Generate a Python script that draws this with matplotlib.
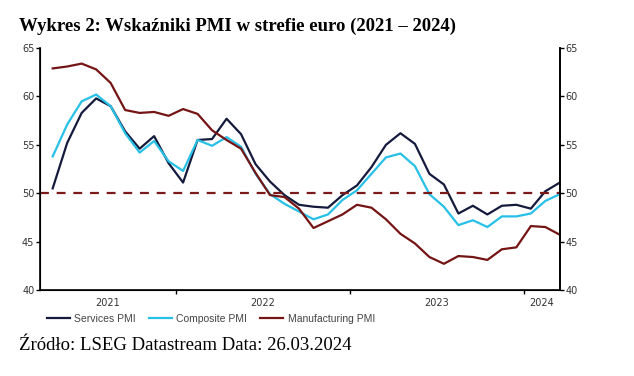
import matplotlib
matplotlib.use("Agg")
import matplotlib.pyplot as plt

# monthly data, Apr 2021 - Mar 2024
months = ["2021-04", "2021-05", "2021-06", "2021-07", "2021-08", "2021-09", "2021-10", "2021-11", "2021-12",
          "2022-01", "2022-02", "2022-03", "2022-04", "2022-05", "2022-06", "2022-07", "2022-08", "2022-09",
          "2022-10", "2022-11", "2022-12",
          "2023-01", "2023-02", "2023-03", "2023-04", "2023-05", "2023-06", "2023-07", "2023-08", "2023-09",
          "2023-10", "2023-11", "2023-12",
          "2024-01", "2024-02", "2024-03"]
services = [50.5, 55.2, 58.3, 59.8, 59.0, 56.4, 54.6, 55.9, 53.1,
            51.1, 55.5, 55.6, 57.7, 56.1, 53.0, 51.2, 49.8, 48.8, 48.6, 48.5, 49.8,
            50.8, 52.7, 55.0, 56.2, 55.1, 52.0, 50.9, 47.9, 48.7, 47.8, 48.7, 48.8,
            48.4, 50.2, 51.1]
composite = [53.8, 57.1, 59.5, 60.2, 59.0, 56.2, 54.2, 55.4, 53.3,
             52.3, 55.5, 54.9, 55.8, 54.8, 52.0, 49.9, 48.9, 48.1, 47.3, 47.8, 49.3,
             50.3, 52.0, 53.7, 54.1, 52.8, 49.9, 48.6, 46.7, 47.2, 46.5, 47.6, 47.6,
             47.9, 49.2, 49.9]
manufacturing = [62.9, 63.1, 63.4, 62.8, 61.4, 58.6, 58.3, 58.4, 58.0,
                 58.7, 58.2, 56.5, 55.5, 54.6, 52.1, 49.8, 49.6, 48.4, 46.4, 47.1, 47.8,
                 48.8, 48.5, 47.3, 45.8, 44.8, 43.4, 42.7, 43.5, 43.4, 43.1, 44.2, 44.4,
                 46.6, 46.5, 45.7]
years = ["2021", "2022", "2023", "2024"]
yticks = [40, 45, 50, 55, 60, 65]

# month position: months since Jan 2021, placed mid-month
x = [(int(m[:4]) - 2021) * 12 + int(m[5:]) - 1 + 0.5 for m in months]

plt.rcParams["font.family"] = "DejaVu Sans"
fig = plt.figure(figsize=(6.34, 3.76), dpi=100)
ax = fig.add_axes([0.063, 0.229, 0.82, 0.643])

ax.plot(x, services, color="#141a3c", lw=1.6, label="Services PMI")
ax.plot(x, composite, color="#27c0e6", lw=1.6, label="Composite PMI")
ax.plot(x, manufacturing, color="#741414", lw=1.6, label="Manufacturing PMI")
ax.axhline(50, color="#7a1a1a", lw=1.6, ls=(0, (4, 3.5)))

ax.set_xlim(2.62, 38.5)
ax.set_ylim(40, 65)
ax.set_yticks(yticks)
ax.set_xticks([12, 24, 36])
ax.set_xticklabels([])
# year labels centered in visible part of each year
xl, xr = ax.get_xlim()
for i, yr in enumerate(years):
    a = max(i * 12, xl)
    b = min((i + 1) * 12, xr)
    ax.text((a + b) / 2, -0.035, yr, transform=ax.get_xaxis_transform(),
            ha="center", va="top", fontsize=7, color="#333333")

ax.tick_params(axis="both", direction="out", length=3, width=1, labelsize=7, colors="#333333")
ax.tick_params(axis="x", color="black")
ax.tick_params(axis="y", color="black", pad=1)
ax.spines["top"].set_visible(False)
for s in ["left", "bottom", "right"]:
    ax.spines[s].set_linewidth(1.2)

ax2 = ax.twinx()
ax2.set_ylim(40, 65)
ax2.set_yticks(yticks)
ax2.tick_params(axis="y", direction="out", length=3, width=1, labelsize=7, labelcolor="#333333", pad=1)
ax2.spines["top"].set_visible(False)
ax2.spines["right"].set_linewidth(1.2)

leg = ax.legend(loc="upper left", bbox_to_anchor=(-0.005, -0.06), ncol=3, frameon=False,
                prop={"family": "Liberation Sans", "size": 7.5}, handlelength=2.2,
                columnspacing=1.3, handletextpad=0.4)
for t in leg.get_texts():
    t.set_color("#444444")

fig.text(0.03, 0.93, "Wykres 2: Wskaźniki PMI w strefie euro (2021 – 2024)",
         family="Liberation Serif", weight="bold", fontsize=13.5, ha="left", va="center")
fig.text(0.03, 0.08, "Źródło: LSEG Datastream Data: 26.03.2024",
         family="Liberation Serif", fontsize=13.5, ha="left", va="center")

fig.savefig("out.png", dpi=100)
